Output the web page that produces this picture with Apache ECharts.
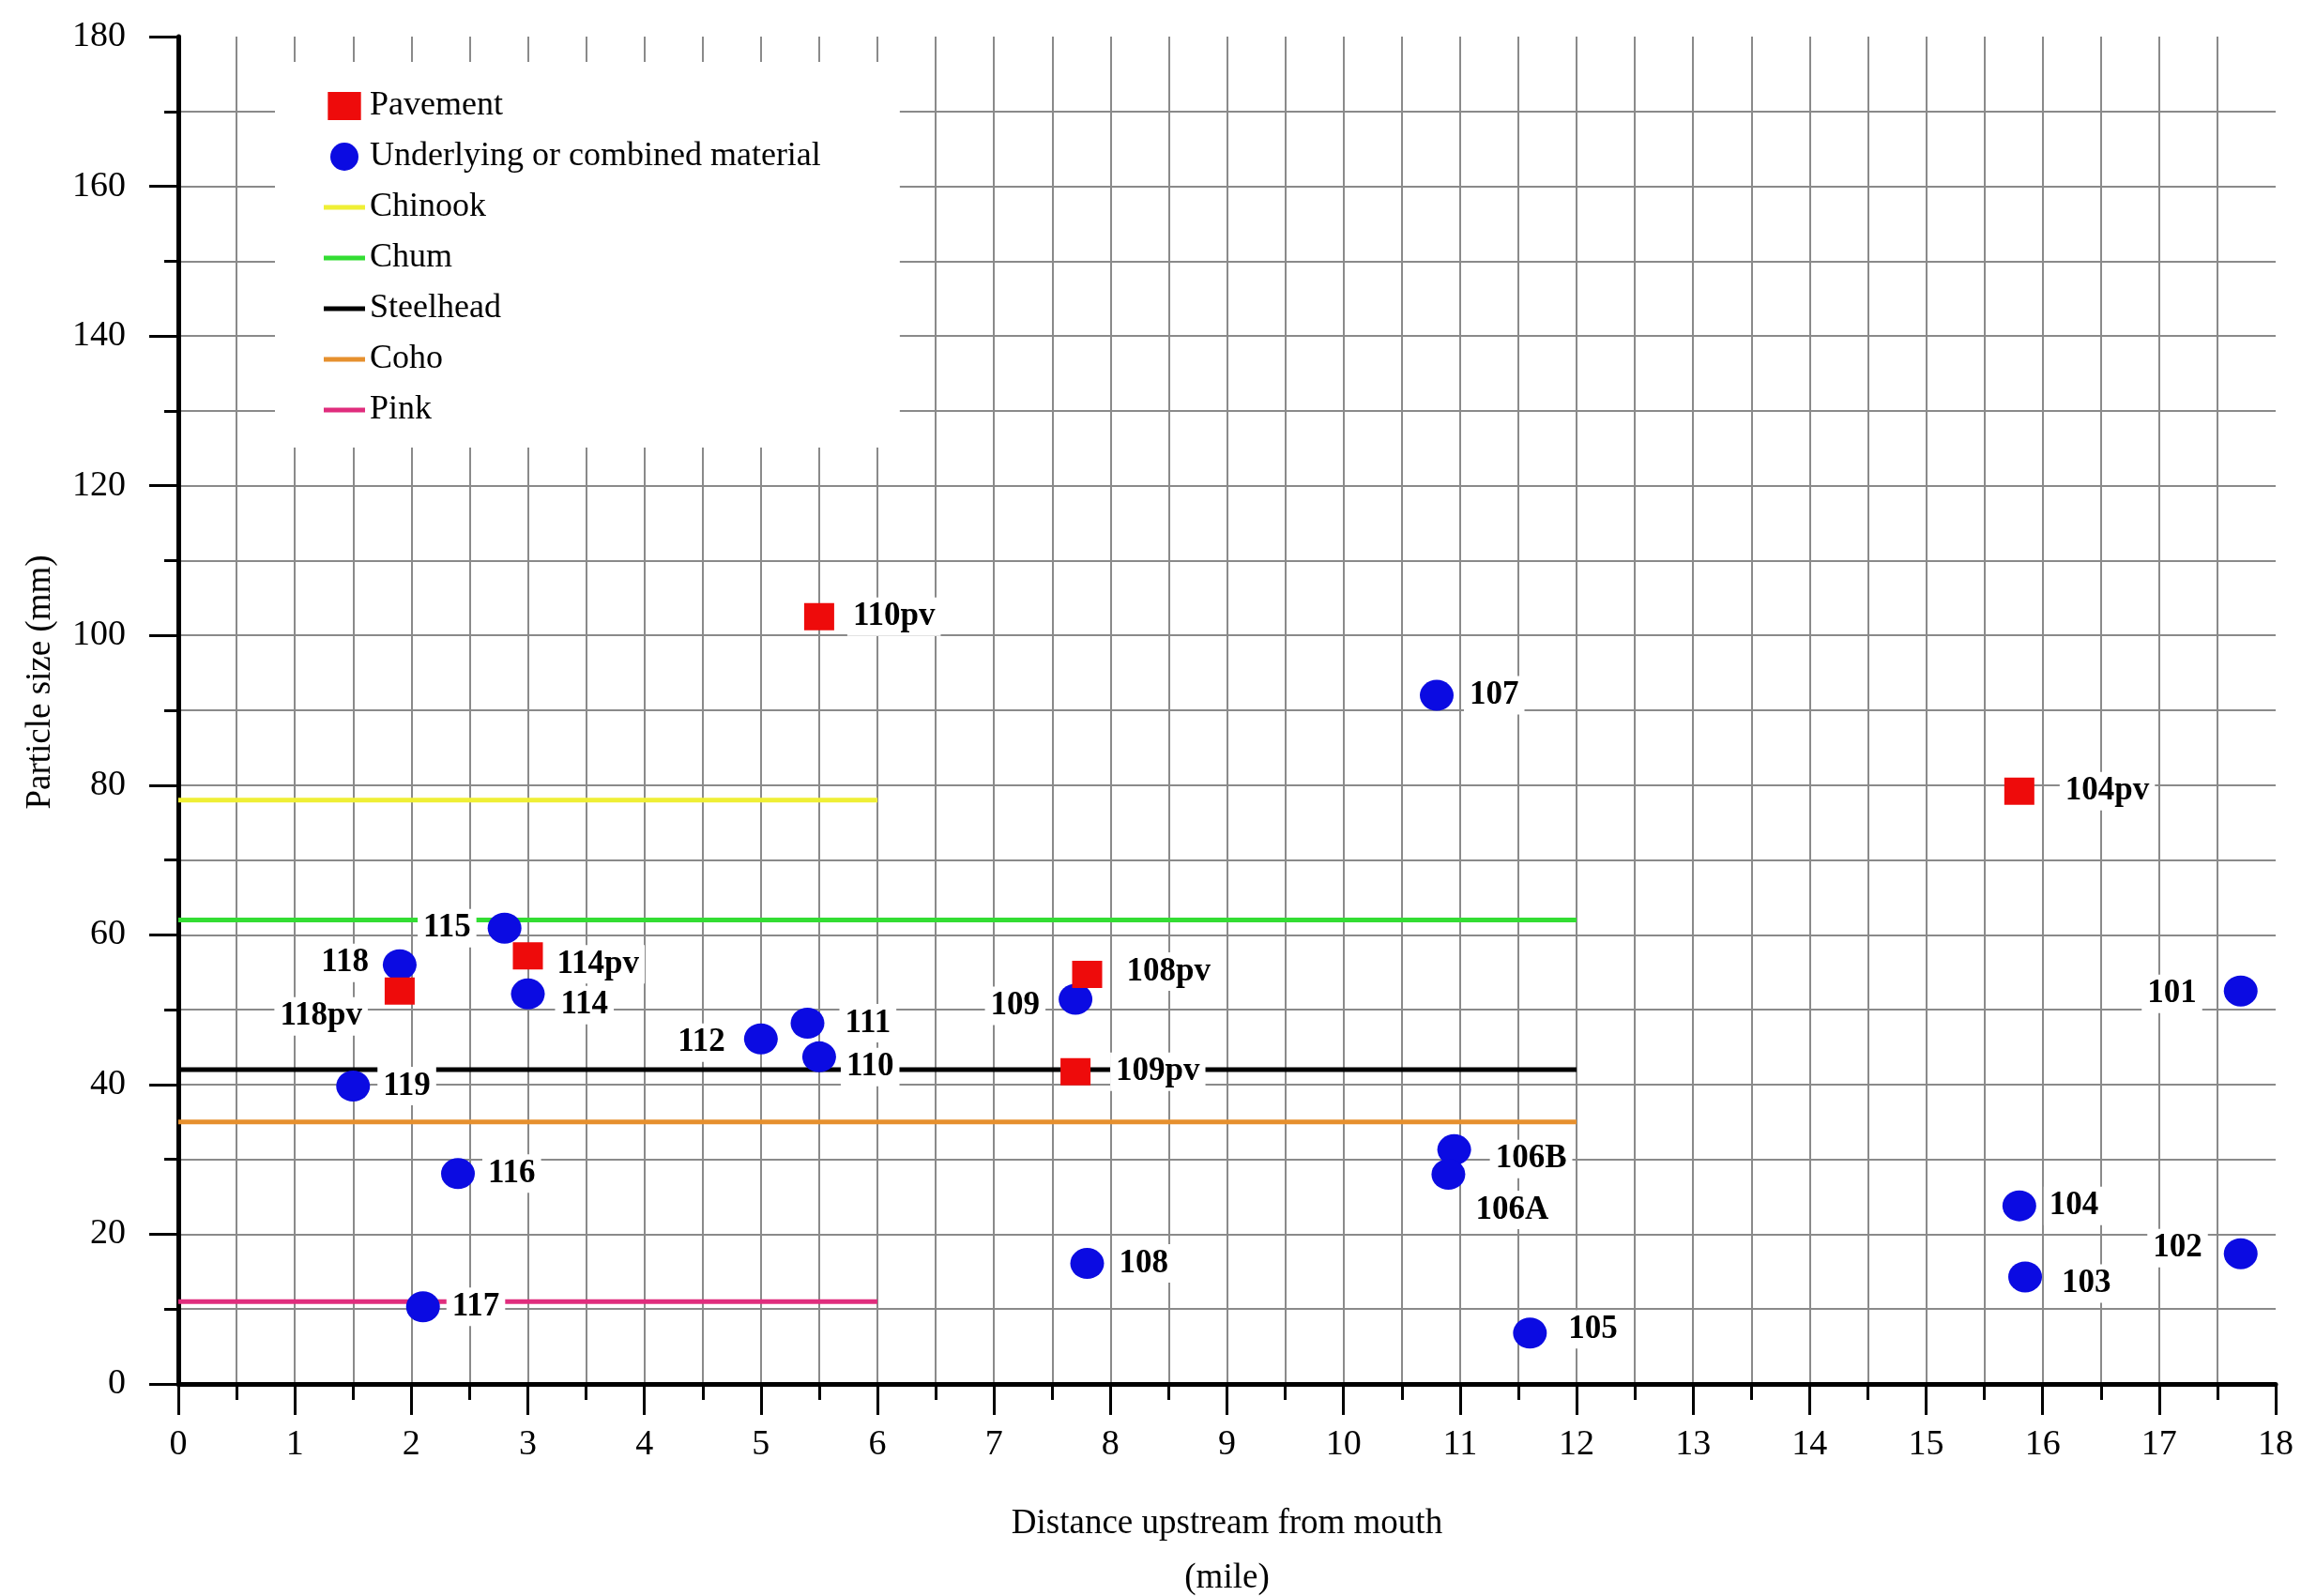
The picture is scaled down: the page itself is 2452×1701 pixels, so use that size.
<!DOCTYPE html>
<html>
<head>
<meta charset="utf-8">
<script src="https://cdn.jsdelivr.net/npm/echarts@6/dist/echarts.min.js"></script>
<style>
  html, body { margin: 0; padding: 0; background: #fff; }
  #chart { width: 2452px; height: 1701px; }
</style>
</head>
<body>
<div id="chart"></div>
<script>
// Pavement (surface layer) samples: site, river mile, particle size (mm)
const pavementSites = ['110pv', '104pv', '114pv', '108pv', '118pv', '109pv'];
const pavementMiles = [5.5, 15.8, 3.0, 7.8, 1.9, 7.7];
const pavementSizes = [102.5, 79.2, 57.2, 54.7, 52.5, 41.7];

// Underlying or combined material samples
const underlyingSites = ['107', '115', '118', '114', '109', '101', '111', '112', '110', '119',
                         '106B', '106A', '116', '104', '102', '108', '103', '117', '105'];
const underlyingMiles = [10.8, 2.8, 1.9, 3.0, 7.7, 17.7, 5.4, 5.0, 5.5, 1.5,
                         10.95, 10.9, 2.4, 15.8, 17.7, 7.8, 15.85, 2.1, 11.6];
const underlyingSizes = [92.0, 60.9, 56.0, 52.1, 51.4, 52.5, 48.2, 46.1, 43.7, 39.8,
                         31.3, 28.0, 28.1, 23.8, 17.4, 16.1, 14.3, 10.3, 6.8];

// Preferred spawning gravel size per species, drawn over the reach it applies to
const species = ['Chinook', 'Chum', 'Steelhead', 'Coho', 'Pink'];
const speciesGravelSize = [78, 62, 42, 35, 11];
const speciesReachStart = [0, 0, 0, 0, 0];
const speciesReachEnd = [6, 12, 12, 12, 6];

// Axis ranges
const xRange = [0, 18];
const xStep = 1;
const yRange = [0, 180];
const yStep = 20;

// ---- styling ----
const FONT = "'Liberation Serif', 'DejaVu Serif', 'Times New Roman', serif";
const speciesColors = ['#efef35', '#33dd33', '#000000', '#e6902e', '#e02d7d'];
const gridColor = '#8a8a8a';

// Where each site label sits relative to its marker: [side, distance, vertical shift]
const labelPlacement = {
  '110pv': ['right', 14, 0], '104pv': ['right', 27, 0], '114pv': ['right', 9, 9],
  '108pv': ['right', 20, -3], '118pv': ['left', 18, 27], '109pv': ['right', 21, 0],
  '107': ['right', 11, 0], '115': ['left', 12, 0], '118': ['left', 9, -2],
  '114': ['right', 11, 12], '109': ['left', 14, 7], '101': ['left', 23, 3],
  '111': ['right', 16, 0], '112': ['left', 14, 4], '110': ['right', 5, 11],
  '119': ['right', 8, 0], '106B': ['right', 20, 10], '106A': ['right', 5, 38],
  '116': ['right', 8, 0], '104': ['right', 8, 0], '102': ['left', 17, -6],
  '108': ['right', 10, 0], '103': ['right', 15, 7], '117': ['right', 7, 0],
  '105': ['right', 17, -4]
};

function siteLabel(name) {
  const p = labelPlacement[name] || ['right', 10, 0];
  return { position: p[0], distance: p[1], offset: [0, p[2]] };
}

const siteLabelStyle = {
  show: true,
  formatter: '{b}',
  fontFamily: FONT,
  fontWeight: 'bold',
  fontSize: 35,
  color: '#000',
  backgroundColor: '#fff',
  padding: [3, 6]
};

const speciesSeries = species.map((name, i) => ({
  type: 'line',
  name: name,
  data: [[speciesReachStart[i], speciesGravelSize[i]], [speciesReachEnd[i], speciesGravelSize[i]]],
  symbol: 'none',
  lineStyle: { color: speciesColors[i], width: 5 },
  itemStyle: { color: speciesColors[i] },
  silent: true,
  z: 3
}));

const underlyingSeries = {
  type: 'scatter',
  name: 'Underlying or combined material',
  symbol: 'circle',
  symbolSize: [36, 33],
  itemStyle: { color: '#0b0be2', opacity: 1 },
  label: siteLabelStyle,
  data: underlyingSites.map((s, i) => ({
    name: s,
    value: [underlyingMiles[i], underlyingSizes[i]],
    label: siteLabel(s)
  })),
  z: 5
};

const pavementSeries = {
  type: 'scatter',
  name: 'Pavement',
  symbol: 'rect',
  symbolSize: [32, 29],
  itemStyle: { color: '#ee0b0b', opacity: 1 },
  label: siteLabelStyle,
  data: pavementSites.map((s, i) => ({
    name: s,
    value: [pavementMiles[i], pavementSizes[i]],
    label: siteLabel(s)
  })),
  z: 6
};

const tickFont = { fontFamily: FONT, fontSize: 38, color: '#000' };
const gridLine = { show: true, showMaxLine: false, lineStyle: { color: gridColor, width: 2 } };
// plain short bar used as the legend key for the species lines
const lineKey = 'path://M0,0h44v5h-44z';

const option = {
  backgroundColor: '#fff',
  animation: false,
  grid: { left: 190, right: 27, top: 39, bottom: 226, containLabel: false, outerBoundsMode: 'none' },
  legend: {
    orient: 'vertical',
    left: 293,
    top: 66,
    padding: [29, 84, 22, 52],
    backgroundColor: '#fff',
    itemWidth: 44,
    itemHeight: 30,
    itemGap: 18,
    selectedMode: false,
    textStyle: { fontFamily: FONT, fontSize: 36, color: '#000', lineHeight: 36 },
    data: [
      { name: 'Pavement', icon: 'path://M0,0h33v28h-33z' },
      { name: 'Underlying or combined material', icon: 'circle' },
      ...species.map(s => ({ name: s, icon: lineKey }))
    ]
  },
  xAxis: {
    type: 'value',
    min: xRange[0],
    max: xRange[1],
    interval: xStep,
    name: 'Distance upstream from mouth\n(mile)',
    nameLocation: 'middle',
    nameGap: 120,
    nameTextStyle: { fontFamily: FONT, fontSize: 37, color: '#000', lineHeight: 58 },
    axisLine: { show: true, onZero: false, lineStyle: { color: '#000', width: 5 } },
    axisTick: { show: true, length: 33, lineStyle: { color: '#000', width: 3 } },
    minorTick: { show: true, splitNumber: 2, length: 17, lineStyle: { color: '#000', width: 3 } },
    axisLabel: Object.assign({ margin: 46 }, tickFont),
    splitLine: gridLine,
    minorSplitLine: { show: true, lineStyle: { color: gridColor, width: 2 } }
  },
  yAxis: {
    type: 'value',
    min: yRange[0],
    max: yRange[1],
    interval: yStep,
    name: 'Particle size (mm)',
    nameLocation: 'middle',
    nameGap: 128,
    nameTextStyle: { fontFamily: FONT, fontSize: 37, color: '#000', padding: [0, 0, 0, 60] },
    axisLine: { show: true, onZero: false, lineStyle: { color: '#000', width: 5 } },
    axisTick: { show: true, length: 31, lineStyle: { color: '#000', width: 3 } },
    minorTick: { show: true, splitNumber: 2, length: 15, lineStyle: { color: '#000', width: 3 } },
    axisLabel: Object.assign({ margin: 56 }, tickFont),
    splitLine: gridLine,
    minorSplitLine: { show: true, lineStyle: { color: gridColor, width: 2 } }
  },
  series: [...speciesSeries, underlyingSeries, pavementSeries]
};

const chart = echarts.init(document.getElementById('chart'), null, { renderer: 'canvas' });
chart.setOption(option);
</script>
</body>
</html>
